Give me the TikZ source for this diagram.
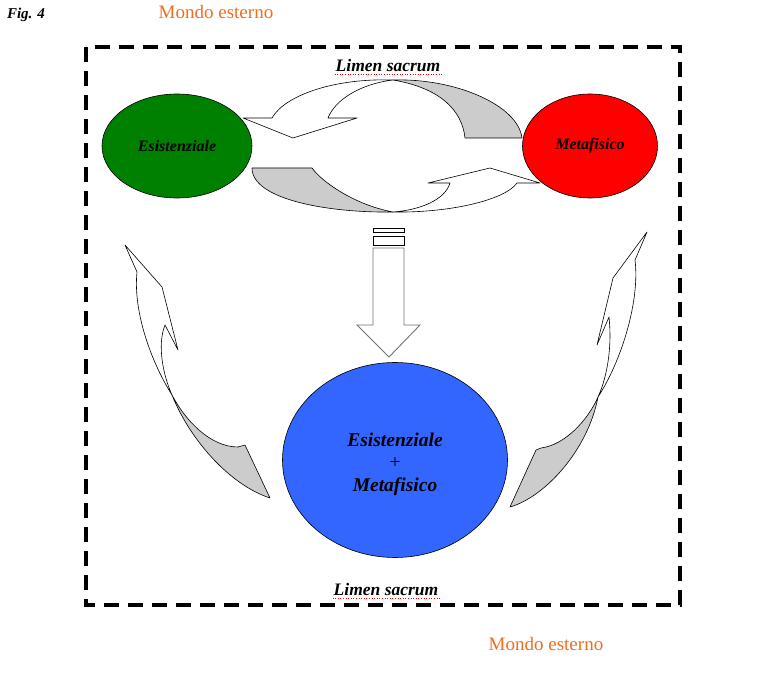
\documentclass[tikz,border=0pt]{standalone}
\usepackage{fontspec}
\setmainfont{Liberation Serif}
\usetikzlibrary{shapes.geometric}
\definecolor{mondocol}{RGB}{240,110,30}
\definecolor{verde}{RGB}{0,128,0}
\definecolor{blu}{RGB}{51,102,255}

\begin{document}
\begin{tikzpicture}[x=1pt, y=-1pt,
    ribbon/.style={draw=black, line width=0.6pt, fill=white, line join=round},
    backside/.style={draw=black, line width=0.6pt, fill=black!20, line join=round},
    blob/.style={ellipse, draw=black, line width=0.6pt, inner sep=0pt},
    lab/.style={font=\fontsize{16}{18}\selectfont\bfseries\itshape},
    outside/.style={text=mondocol, font=\fontsize{19}{21}\selectfont},
    squiggle/.style={red, dotted, line width=0.6pt},
    shaft/.style={draw=black!55, line width=0.9pt, fill=white}]
    \useasboundingbox (0,0) rectangle (761,679);

    % cornice tratteggiata
    \draw[line width=3.2pt, dash pattern=on 15pt off 9pt] (86,47) rectangle (680,605);

    \node (fig) [font=\fontsize{15}{17}\selectfont\bfseries\itshape] at (26,15) {Fig. 4};
    \node (mondoT) [outside] at (216,12) {Mondo esterno};
    \node (mondoB) [outside] at (546,644) {Mondo esterno};
    \node (limenT) [lab, font=\fontsize{17.5}{19}\selectfont\bfseries\itshape, inner sep=1pt] at (388,66) {Limen sacrum};
    \node (limenB) [lab, font=\fontsize{17.5}{19}\selectfont\bfseries\itshape, inner sep=1pt] at (386,590) {Limen sacrum};
    \draw[squiggle] ([yshift=-2pt]limenT.base west) -- ([yshift=-2pt]limenT.base east);
    \draw[squiggle] ([yshift=-2pt]limenB.base west) -- ([yshift=-2pt]limenB.base east);

    % anello superiore
    \draw[backside] (522,138) -- (465,138) .. controls (462,110) and (440,88) .. (393,80)
        .. controls (455,78) and (518,105) .. cycle;
    \draw[ribbon] (393,80) .. controls (335,78) and (285,95) .. (272,118) -- (243,118)
        -- (293,138) -- (357,118) -- (328,118) .. controls (335,100) and (360,84) .. cycle;
    % anello inferiore
    \draw[backside] (252,168) -- (312,168) .. controls (322,182) and (355,205) .. (393,212)
        .. controls (330,213) and (252,200) .. cycle;
    \draw[ribbon] (393,212) .. controls (450,213) and (505,200) .. (517,183) -- (540,183)
        -- (490,168) -- (428,183) -- (450,183) .. controls (445,200) and (420,210) .. cycle;

    % freccia sinistra
    \draw[backside] (172,395) .. controls (185,420) and (210,447) .. (238,447) -- (245,445)
        -- (270,498) .. controls (230,485) and (190,440) .. cycle;
    \draw[ribbon] (172,395) .. controls (163,375) and (157,345) .. (165,325) -- (178,350)
        -- (162,287) -- (125,245) -- (137,272) .. controls (133,310) and (150,360) .. cycle;
    % freccia destra
    \draw[backside] (598,397) .. controls (588,420) and (565,445) .. (541,448) -- (536,450)
        -- (510,507) .. controls (545,497) and (588,450) .. cycle;
    \draw[ribbon] (598,397) .. controls (608,375) and (612,345) .. (609,317) -- (597,345)
        -- (613,278) -- (647,232) -- (635,260) .. controls (640,300) and (622,360) .. cycle;

    % freccia in basso
    \draw[shaft, draw=black] (373,228) rectangle (404,232);
    \draw[shaft, draw=black] (373,236) rectangle (404,245);
    \draw[shaft] (373,248) -- (373,325) -- (357,325) -- (389,357)
        -- (420,325) -- (404,325) -- (404,248) -- cycle;

    \node (esist) [blob, fill=verde, minimum width=150pt, minimum height=104pt] at (177,146) {};
    \node [lab] at (esist) {Esistenziale};
    \node (metaf) [blob, fill=red, minimum width=135pt, minimum height=104pt] at (590,146) {};
    \node [lab] at (metaf) {Metafisico};
    \node (union) [blob, fill=blu, minimum width=225pt, minimum height=195pt] at (395,460) {};
    \node [lab, align=center, font=\fontsize{19.5}{22.5}\selectfont\bfseries\itshape] at (395,464)
        {Esistenziale\\{\normalfont +}\\Metafisico};
\end{tikzpicture}
\end{document}
